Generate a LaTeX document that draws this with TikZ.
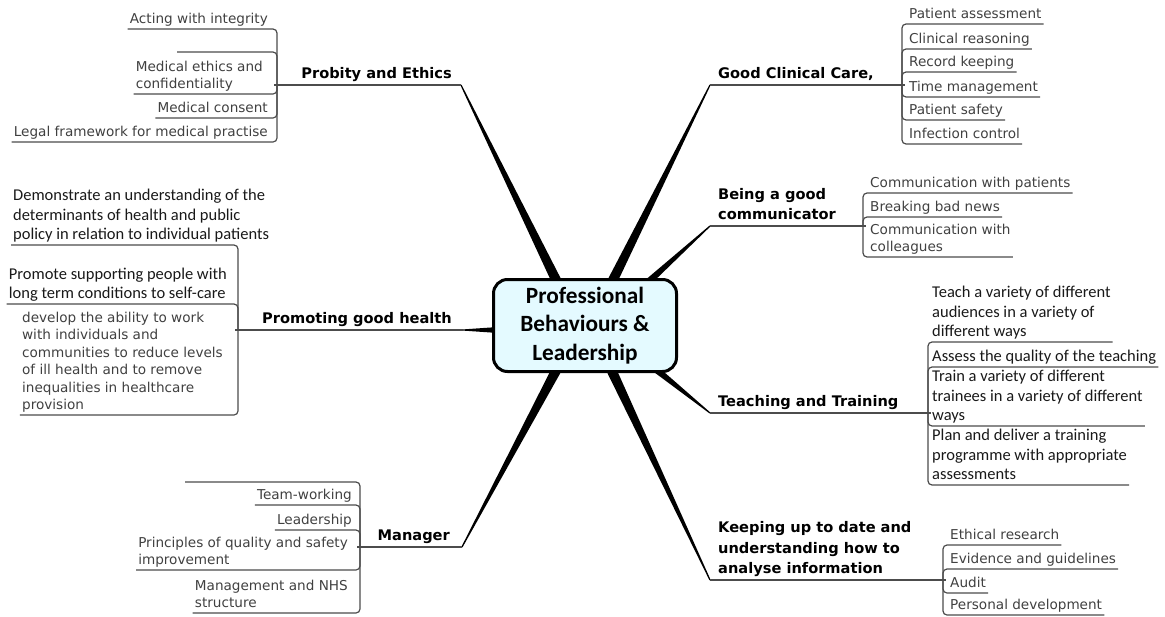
\documentclass[tikz,border=0pt]{standalone}
\usepackage{fontspec}
\setmainfont{DejaVu Sans}
\newfontfamily\calib{Carlito}
\usetikzlibrary{calc,backgrounds}
\definecolor{corefill}{RGB}{228,250,255}
\definecolor{leafgray}{RGB}{64,64,64}

\begin{document}
\begin{tikzpicture}[x=1pt,y=-1pt,
    core/.style={draw,line width=3pt,rounded corners=14pt,fill=corefill,
      minimum width=183pt,minimum height=92pt,align=center,
      font=\calib\bfseries\fontsize{23.3}{28.5}\selectfont},
    topic/.style={inner sep=2pt,text depth=4pt,align=left,
      font=\bfseries\fontsize{14.6}{20.5}\selectfont},
    leaf/.style={inner sep=2pt,text depth=3pt,align=left,text=leafgray,
      font=\fontsize{13.6}{17.5}\selectfont},
    calleaf/.style={leaf,text=black!90,font=\calib\fontsize{16.5}{19.5}\selectfont},
    link/.style={draw=black!70,line width=1.2pt,rounded corners=4pt}]

  \useasboundingbox (0,0) rectangle (1165,616);

  \node[core] (core) at (585,325.5) {Professional\\Behaviours \&\\Leadership};

  % branch ends
  \coordinate (pB) at ($(core.north)+(-27,6)$);
  \coordinate (gB) at ($(core.north)+(26,6)$);
  \coordinate (cB) at ($(core.north)+(61,6)$);
  \coordinate (hB) at ($(core.west)+(6,4.5)$);
  \coordinate (tB) at ($(core.south)+(68,-6)$);
  \coordinate (kB) at ($(core.south)+(25,-6)$);
  \coordinate (mB) at ($(core.south)+(-27,-6)$);

  \coordinate (pT) at (461,85);   \coordinate (pJ) at (277,85);
  \coordinate (gT) at (710,85);   \coordinate (gJ) at (902,85);
  \coordinate (cT) at (710,226);  \coordinate (cJ) at (863,226);
  \coordinate (hT) at (463,330);  \coordinate (hJ) at (238,330);
  \coordinate (tT) at (710,413);  \coordinate (tJ) at (928,413);
  \coordinate (kT) at (710,580);  \coordinate (kJ) at (943,580);
  \coordinate (mT) at (462,547);  \coordinate (mJ) at (360,547);

  \begin{scope}[on background layer]
    \fill ($(pB)!5pt!90:(pT)$) -- ($(pT)!0.6pt!-90:(pB)$) -- ($(pT)!0.6pt!90:(pB)$) -- ($(pB)!5pt!-90:(pT)$) -- cycle;
    \fill ($(gB)!5pt!90:(gT)$) -- ($(gT)!0.6pt!-90:(gB)$) -- ($(gT)!0.6pt!90:(gB)$) -- ($(gB)!5pt!-90:(gT)$) -- cycle;
    \fill ($(cB)!3.5pt!90:(cT)$) -- ($(cT)!0.6pt!-90:(cB)$) -- ($(cT)!0.6pt!90:(cB)$) -- ($(cB)!3.5pt!-90:(cT)$) -- cycle;
    \fill ($(hB)!3pt!90:(hT)$) -- ($(hT)!0.6pt!-90:(hB)$) -- ($(hT)!0.6pt!90:(hB)$) -- ($(hB)!3pt!-90:(hT)$) -- cycle;
    \fill ($(tB)!3.5pt!90:(tT)$) -- ($(tT)!0.6pt!-90:(tB)$) -- ($(tT)!0.6pt!90:(tB)$) -- ($(tB)!3.5pt!-90:(tT)$) -- cycle;
    \fill ($(kB)!5pt!90:(kT)$) -- ($(kT)!0.6pt!-90:(kB)$) -- ($(kT)!0.6pt!90:(kB)$) -- ($(kB)!5pt!-90:(kT)$) -- cycle;
    \fill ($(mB)!5pt!90:(mT)$) -- ($(mT)!0.6pt!-90:(mB)$) -- ($(mT)!0.6pt!90:(mB)$) -- ($(mB)!5pt!-90:(mT)$) -- cycle;
  \end{scope}

  % Probity and Ethics
  \node[topic,anchor=south east] (probity) at ($(pT)+(-7,0)$) {Probity and Ethics};
  \node[leaf,anchor=south east] (p1) at (270,29) {Acting with integrity};
  \coordinate (p2) at (177,52);
  \node[leaf,anchor=south east] (p3) at (265,94) {Medical ethics and\\confidentiality};
  \node[leaf,anchor=south east] (p4) at (270,118) {Medical consent};
  \node[leaf,anchor=south east] (p5) at (270,142) {Legal framework for medical practise};
  \draw[link] (pT) -- ($(pJ)+(-3,0)$);
  \draw[link] (pJ) |- (p1.south west);
  \draw[link] (pJ) |- (p2);
  \draw[link] (pJ) |- (p3.south west);
  \draw[link] (pJ) |- (p4.south west);
  \draw[link] (pJ) |- (p5.south west);

  % Good Clinical Care
  \node[topic,anchor=south west] (care) at ($(gT)+(6,0)$) {Good Clinical Care,};
  \node[leaf,anchor=south west] (g1) at (907,24) {Patient assessment};
  \node[leaf,anchor=south west] (g2) at (907,49) {Clinical reasoning};
  \node[leaf,anchor=south west] (g3) at (907,72) {Record keeping};
  \node[leaf,anchor=south west] (g4) at (907,97) {Time management};
  \node[leaf,anchor=south west] (g5) at (907,120) {Patient safety};
  \node[leaf,anchor=south west] (g6) at (907,144) {Infection control};
  \draw[link] (gT) -- ($(gJ)+(3,0)$);
  \draw[link] (gJ) |- (g1.south east);
  \draw[link] (gJ) |- (g2.south east);
  \draw[link] (gJ) |- (g3.south east);
  \draw[link] (gJ) |- (g4.south east);
  \draw[link] (gJ) |- (g5.south east);
  \draw[link] (gJ) |- (g6.south east);

  % Being a good communicator
  \node[topic,anchor=south west] (comm) at ($(cT)+(6,0)$) {Being a good\\communicator};
  \node[leaf,anchor=south west] (c1) at (868,193) {Communication with patients};
  \node[leaf,anchor=south west] (c2) at (868,217) {Breaking bad news};
  \node[leaf,anchor=south west] (c3) at (868,257) {Communication with\\colleagues};
  \draw[link] (cT) -- ($(cJ)+(3,0)$);
  \draw[link] (cJ) |- (c1.south east);
  \draw[link] (cJ) |- (c2.south east);
  \draw[link] (cJ) |- (c3.south east);

  % Promoting good health
  \node[topic,anchor=south east] (health) at ($(hT)+(-9,0)$) {Promoting good health};
  \node[calleaf,anchor=south west] (h1) at (11,245) {Demonstrate an understanding of the\\determinants of health and public\\policy in relation to individual patients};
  \node[calleaf,anchor=south east] (h2) at (229,304) {Promote supporting people with\\long term conditions to self-care};
  \node[leaf,anchor=south east] (h3) at (225,415) {develop the ability to work\\with individuals and\\communities to reduce levels\\of ill health and to remove\\inequalities in healthcare\\provision};
  \draw[link] (hT) -- ($(hJ)+(-3,0)$);
  \draw[link] (hJ) |- (h1.south west);
  \draw[link] (hJ) |- (h2.south west);
  \draw[link] (hJ) |- (h3.south west);

  % Teaching and Training
  \node[topic,anchor=south west] (teach) at ($(tT)+(6,0)$) {Teaching and Training};
  \node[calleaf,anchor=south west] (t1) at (930,342) {Teach a variety of different\\audiences in a variety of\\different ways};
  \node[calleaf,anchor=south west] (t2) at (930,367) {Assess the quality of the teaching};
  \node[calleaf,anchor=south west] (t3) at (930,426) {Train a variety of different\\trainees in a variety of different\\ways};
  \node[calleaf,anchor=south west] (t4) at (930,485) {Plan and deliver a training\\programme with appropriate\\assessments};
  \draw[link] (tT) -- ($(tJ)+(3,0)$);
  \draw[link] (tJ) |- (t1.south east);
  \draw[link] (tJ) |- (t2.south east);
  \draw[link] (tJ) |- (t3.south east);
  \draw[link] (tJ) |- (t4.south east);

  % Keeping up to date
  \node[topic,anchor=south west] (keep) at ($(kT)+(6,0)$) {Keeping up to date and\\understanding how to\\analyse information};
  \node[leaf,anchor=south west] (k1) at (948,545) {Ethical research};
  \node[leaf,anchor=south west] (k2) at (948,569) {Evidence and guidelines};
  \node[leaf,anchor=south west] (k3) at (948,593) {Audit};
  \node[leaf,anchor=south west] (k4) at (948,615) {Personal development};
  \draw[link] (kT) -- ($(kJ)+(3,0)$);
  \draw[link] (kJ) |- (k1.south east);
  \draw[link] (kJ) |- (k2.south east);
  \draw[link] (kJ) |- (k3.south east);
  \draw[link] (kJ) |- (k4.south east);

  % Manager
  \node[topic,anchor=south east] (manager) at ($(mT)+(-10,0)$) {Manager};
  \coordinate (m1) at (185,482);
  \node[leaf,anchor=south east] (m2) at (354,505) {Team-working};
  \node[leaf,anchor=south east] (m3) at (354,530) {Leadership};
  \node[leaf,anchor=south east] (m4) at (350,570) {Principles of quality and safety\\improvement};
  \node[leaf,anchor=south east] (m5) at (350,613) {Management and NHS\\structure};
  \draw[link] (mT) -- ($(mJ)+(-3,0)$);
  \draw[link] (mJ) |- (m1);
  \draw[link] (mJ) |- (m2.south west);
  \draw[link] (mJ) |- (m3.south west);
  \draw[link] (mJ) |- (m4.south west);
  \draw[link] (mJ) |- (m5.south west);
\end{tikzpicture}
\end{document}
